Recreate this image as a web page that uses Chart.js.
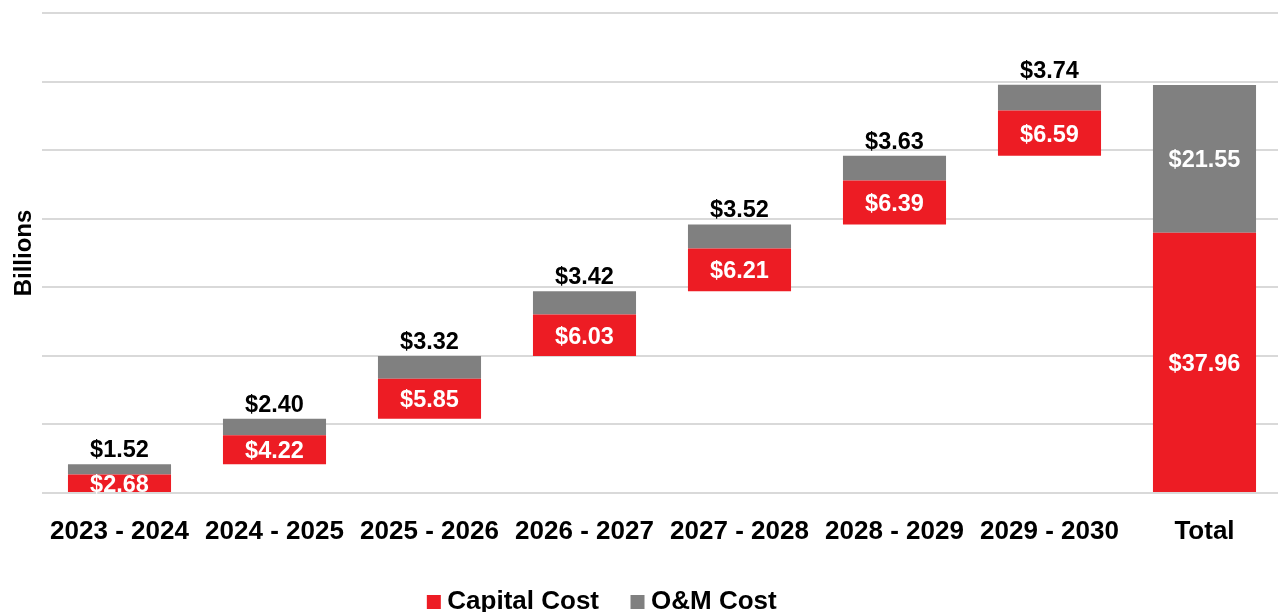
<!DOCTYPE html>
<html lang="en">
<head>
    <meta charset="UTF-8">
    <title>Capital and O&amp;M Cost</title>
    <script src="https://cdn.jsdelivr.net/npm/chart.js"></script>
    <style>
        body {
            margin: 0;
            overflow: hidden;
            background: #ffffff;
        }
        #wrap {
            position: absolute;
            top: 0;
            left: 0;
        }
    </style>
</head>
<body>
    <div id="wrap">
        <canvas id="costChart" width="1282" height="625"></canvas>
    </div>

    <script>
        // Data (billions)
        const periods = ['2023 - 2024', '2024 - 2025', '2025 - 2026', '2026 - 2027', '2027 - 2028', '2028 - 2029', '2029 - 2030', 'Total'];
        const capitalCost = [2.68, 4.22, 5.85, 6.03, 6.21, 6.39, 6.59, 37.96];
        const omCost = [1.52, 2.40, 3.32, 3.42, 3.52, 3.63, 3.74, 21.55];
        const yTicks = [0, 10, 20, 30, 40, 50, 60, 70];

        const FONT = "'Liberation Sans', Arial, sans-serif";
        const RED = '#ED1C24';
        const GRAY = '#808080';
        const LABEL_SIZE = 23.5;

        // waterfall: each period sits on top of the previous ones, total starts at zero
        const capitalBars = [];
        const omBars = [];
        let running = 0;
        periods.forEach((p, i) => {
            const base = (i === periods.length - 1) ? 0 : running;
            const mid = base + capitalCost[i];
            capitalBars.push([base, mid]);
            omBars.push([mid, mid + omCost[i]]);
            if (i < periods.length - 1) running = mid + omCost[i];
        });

        const money = v => '$' + v.toFixed(2);

        // draws the value labels on/above the bars
        const barLabels = {
            id: 'barLabels',
            afterDatasetsDraw(chart) {
                const ctx = chart.ctx;
                const last = periods.length - 1;
                ctx.save();
                ctx.font = 'bold ' + LABEL_SIZE + 'px ' + FONT;
                ctx.textAlign = 'center';
                ctx.textBaseline = 'alphabetic';
                const capH = LABEL_SIZE * 0.358;
                chart.getDatasetMeta(0).data.forEach((bar, i) => {
                    const c = (bar.y + bar.base) / 2;
                    ctx.fillStyle = '#ffffff';
                    ctx.fillText(money(capitalCost[i]), bar.x, c + capH);
                });
                chart.getDatasetMeta(1).data.forEach((bar, i) => {
                    const top = Math.min(bar.y, bar.base);
                    if (i === last) {
                        const c = (bar.y + bar.base) / 2;
                        ctx.fillStyle = '#ffffff';
                        ctx.fillText(money(omCost[i]), bar.x, c + capH);
                    } else {
                        ctx.fillStyle = '#000000';
                        ctx.fillText(money(omCost[i]), bar.x, top - 7);
                    }
                });
                ctx.restore();
            }
        };

        // the legend in the original sits a little left of centre
        const legendShift = {
            id: 'legendShift',
            afterLayout(chart) {
                chart.legend.left -= 36;
                chart.legend.right -= 36;
            }
        };

        const ctxCost = document.getElementById('costChart').getContext('2d');
        const costChart = new Chart(ctxCost, {
            type: 'bar',
            data: {
                labels: periods,
                datasets: [
                    {
                        label: 'Capital Cost',
                        data: capitalBars,
                        backgroundColor: RED,
                        borderWidth: 0,
                        barPercentage: 0.665,
                        categoryPercentage: 1,
                        grouped: false
                    },
                    {
                        label: 'O&M Cost',
                        data: omBars,
                        backgroundColor: GRAY,
                        borderWidth: 0,
                        barPercentage: 0.665,
                        categoryPercentage: 1,
                        grouped: false
                    }
                ]
            },
            options: {
                responsive: false,
                animation: false,
                layout: {
                    padding: { top: 13, left: 0, right: 0, bottom: 0 }
                },
                plugins: {
                    tooltip: { enabled: false },
                    legend: {
                        position: 'bottom',
                        labels: {
                            usePointStyle: true,
                            pointStyle: 'rect',
                            boxWidth: 1,
                            boxHeight: 14,
                            padding: 38,
                            color: '#000000',
                            font: { family: FONT, size: 26, weight: 'bold' }
                        }
                    }
                },
                scales: {
                    x: {
                        grid: { display: false },
                        border: { display: false },
                        ticks: {
                            color: '#000000',
                            padding: 15,
                            font: { family: FONT, size: 26, weight: 'bold' }
                        },
                        afterFit(scale) { scale.height = 58; }
                    },
                    y: {
                        min: yTicks[0],
                        max: yTicks[yTicks.length - 1],
                        afterBuildTicks(scale) {
                            scale.ticks = yTicks.map(v => ({ value: v }));
                        },
                        ticks: { display: false },
                        grid: {
                            color: '#d9d9d9',
                            lineWidth: 2,
                            drawTicks: false
                        },
                        border: { display: false },
                        title: {
                            display: true,
                            text: 'Billions',
                            color: '#000000',
                            padding: { top: 10, bottom: 0 },
                            font: { family: FONT, size: 24, weight: 'bold' }
                        },
                        afterFit(scale) { scale.width = 42; }
                    }
                }
            },
            plugins: [barLabels, legendShift]
        });
    </script>
</body>
</html>
